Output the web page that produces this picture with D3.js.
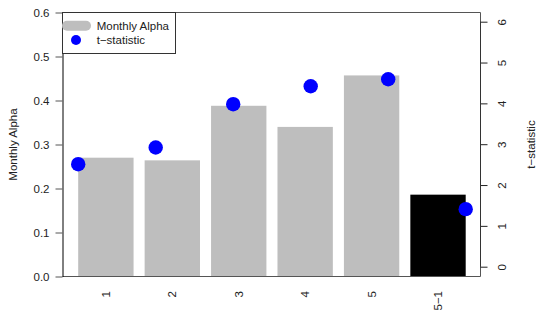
<!DOCTYPE html>
<html>
<head>
<meta charset="utf-8">
<script src="https://cdn.jsdelivr.net/npm/d3@7"></script>
<style>
  body { margin: 0; background: #fff; }
  svg { display: block; font-family: "Liberation Sans", Arial, sans-serif; }
</style>
</head>
<body>
<script>
var categories = ["1", "2", "3", "4", "5", "5\u22121"];
var alpha = [0.270, 0.264, 0.388, 0.340, 0.457, 0.186];
var tstat = [2.51, 2.92, 3.98, 4.42, 4.59, 1.41];
var alphaTicks = [0, 0.1, 0.2, 0.3, 0.4, 0.5, 0.6];
var tTicks = [0, 1, 2, 3, 4, 5, 6];

var w = 536;
var h = 317;

var margin = {
  top: 12.5,
  bottom: 40.5,
  left: 62.5,
  right: 55.5
}

var plotLeft = margin.left;
var plotRight = w - margin.right;
var plotTop = margin.top;
var plotBottom = h - margin.bottom;

var x = d3.scaleBand()
  .domain(categories)
  .range([78.2, 465.7])
  .paddingInner(1 / 6)
  .paddingOuter(0);

var xp = d3.scalePoint()
  .domain(categories)
  .range([78.2, 465.7]);

var y = d3.scaleLinear()
  .domain([0, 0.6])
  .range([plotBottom, plotTop]);

var y2 = d3.scaleLinear()
  .domain([0, 6])
  .range([266.7, 21.7]);

var svg = d3.select("body").append("svg")
  .attr("width", w)
  .attr("height", h);

// bars
svg.append("g").selectAll("rect")
  .data(alpha)
  .enter()
  .append("rect")
  .attr("x", function (d, i) { return x(categories[i]); })
  .attr("y", function (d) { return y(d); })
  .attr("width", x.bandwidth())
  .attr("height", function (d) { return y(0) - y(d); })
  .attr("fill", function (d, i) { return categories[i] === "5\u22121" ? "#000" : "#bebebe"; });

// box
svg.append("path")
  .attr("d", "M" + plotLeft + "," + plotTop + "H" + plotRight + "V" + plotBottom + "H" + plotLeft)
  .attr("fill", "none")
  .attr("stroke", "#555")
  .attr("stroke-width", 1);

// left axis
var ga = svg.append("g")
  .attr("transform", "translate(" + plotLeft + ",0)")
  .call(d3.axisLeft(y).tickValues(alphaTicks).tickFormat(d3.format(".1f")).tickSize(7).tickPadding(6).tickSizeOuter(0));
ga.selectAll("text").attr("font-size", 11.5).attr("fill", "#222").attr("font-family", null);
ga.select(".domain").attr("stroke", "#000");
ga.selectAll(".tick line").attr("stroke", "#555");

// right axis
var gb = svg.append("g")
  .attr("transform", "translate(" + plotRight + ",0)")
  .call(d3.axisRight(y2).tickValues(tTicks).tickFormat(d3.format("d")).tickSize(7).tickSizeOuter(0));
gb.select(".domain").remove();
gb.selectAll(".tick line").attr("stroke", "#222");
gb.selectAll("text")
  .attr("x", null)
  .attr("dy", "0.35em")
  .attr("transform", "translate(21,0) rotate(-90)")
  .attr("text-anchor", "middle")
  .attr("font-size", 11.5)
  .attr("fill", "#222")
  .attr("font-family", null);
svg.append("line")
  .attr("x1", plotRight).attr("x2", plotRight)
  .attr("y1", y2(0)).attr("y2", y2(6))
  .attr("stroke", "#333");

// x labels
svg.append("g").selectAll("text")
  .data(categories)
  .enter()
  .append("text")
  .attr("transform", function (d) { return "translate(" + (x(d) + x.bandwidth() / 2) + ",291) rotate(-90)"; })
  .attr("dy", "0.35em")
  .attr("text-anchor", "end")
  .attr("font-size", 11.5)
  .attr("fill", "#222")
  .text(function (d) { return d; });

// t-stat points
svg.append("g").selectAll("circle")
  .data(tstat)
  .enter()
  .append("circle")
  .attr("cx", function (d, i) { return xp(categories[i]); })
  .attr("cy", function (d) { return y2(d); })
  .attr("r", 7.2)
  .attr("fill", "#0000ff");

// axis titles
svg.append("text")
  .attr("transform", "translate(13," + ((plotTop + plotBottom) / 2) + ") rotate(-90)")
  .attr("dy", "0.35em")
  .attr("text-anchor", "middle")
  .attr("font-size", 11.5)
  .attr("fill", "#222")
  .text("Monthly Alpha");

svg.append("text")
  .attr("transform", "translate(531," + ((plotTop + plotBottom) / 2) + ") rotate(-90)")
  .attr("dy", "0.35em")
  .attr("text-anchor", "middle")
  .attr("font-size", 11.5)
  .attr("fill", "#222")
  .text("t\u2212statistic");

// legend
var lg = svg.append("g");
lg.append("rect")
  .attr("x", plotLeft).attr("y", plotTop)
  .attr("width", 113).attr("height", 41)
  .attr("fill", "#fff")
  .attr("stroke", "#333");
lg.append("line")
  .attr("x1", 67).attr("x2", 86)
  .attr("y1", 25.7).attr("y2", 25.7)
  .attr("stroke", "#bebebe")
  .attr("stroke-width", 10)
  .attr("stroke-linecap", "round");
lg.append("circle")
  .attr("cx", 76).attr("cy", 40)
  .attr("r", 5)
  .attr("fill", "#0000ff");
lg.append("text")
  .attr("x", 96.7).attr("y", 25.7)
  .attr("dy", "0.35em")
  .attr("font-size", 11.5)
  .attr("fill", "#222")
  .text("Monthly Alpha");
lg.append("text")
  .attr("x", 96.7).attr("y", 40)
  .attr("dy", "0.35em")
  .attr("font-size", 11.5)
  .attr("fill", "#222")
  .text("t\u2212statistic");
</script>
</body>
</html>
